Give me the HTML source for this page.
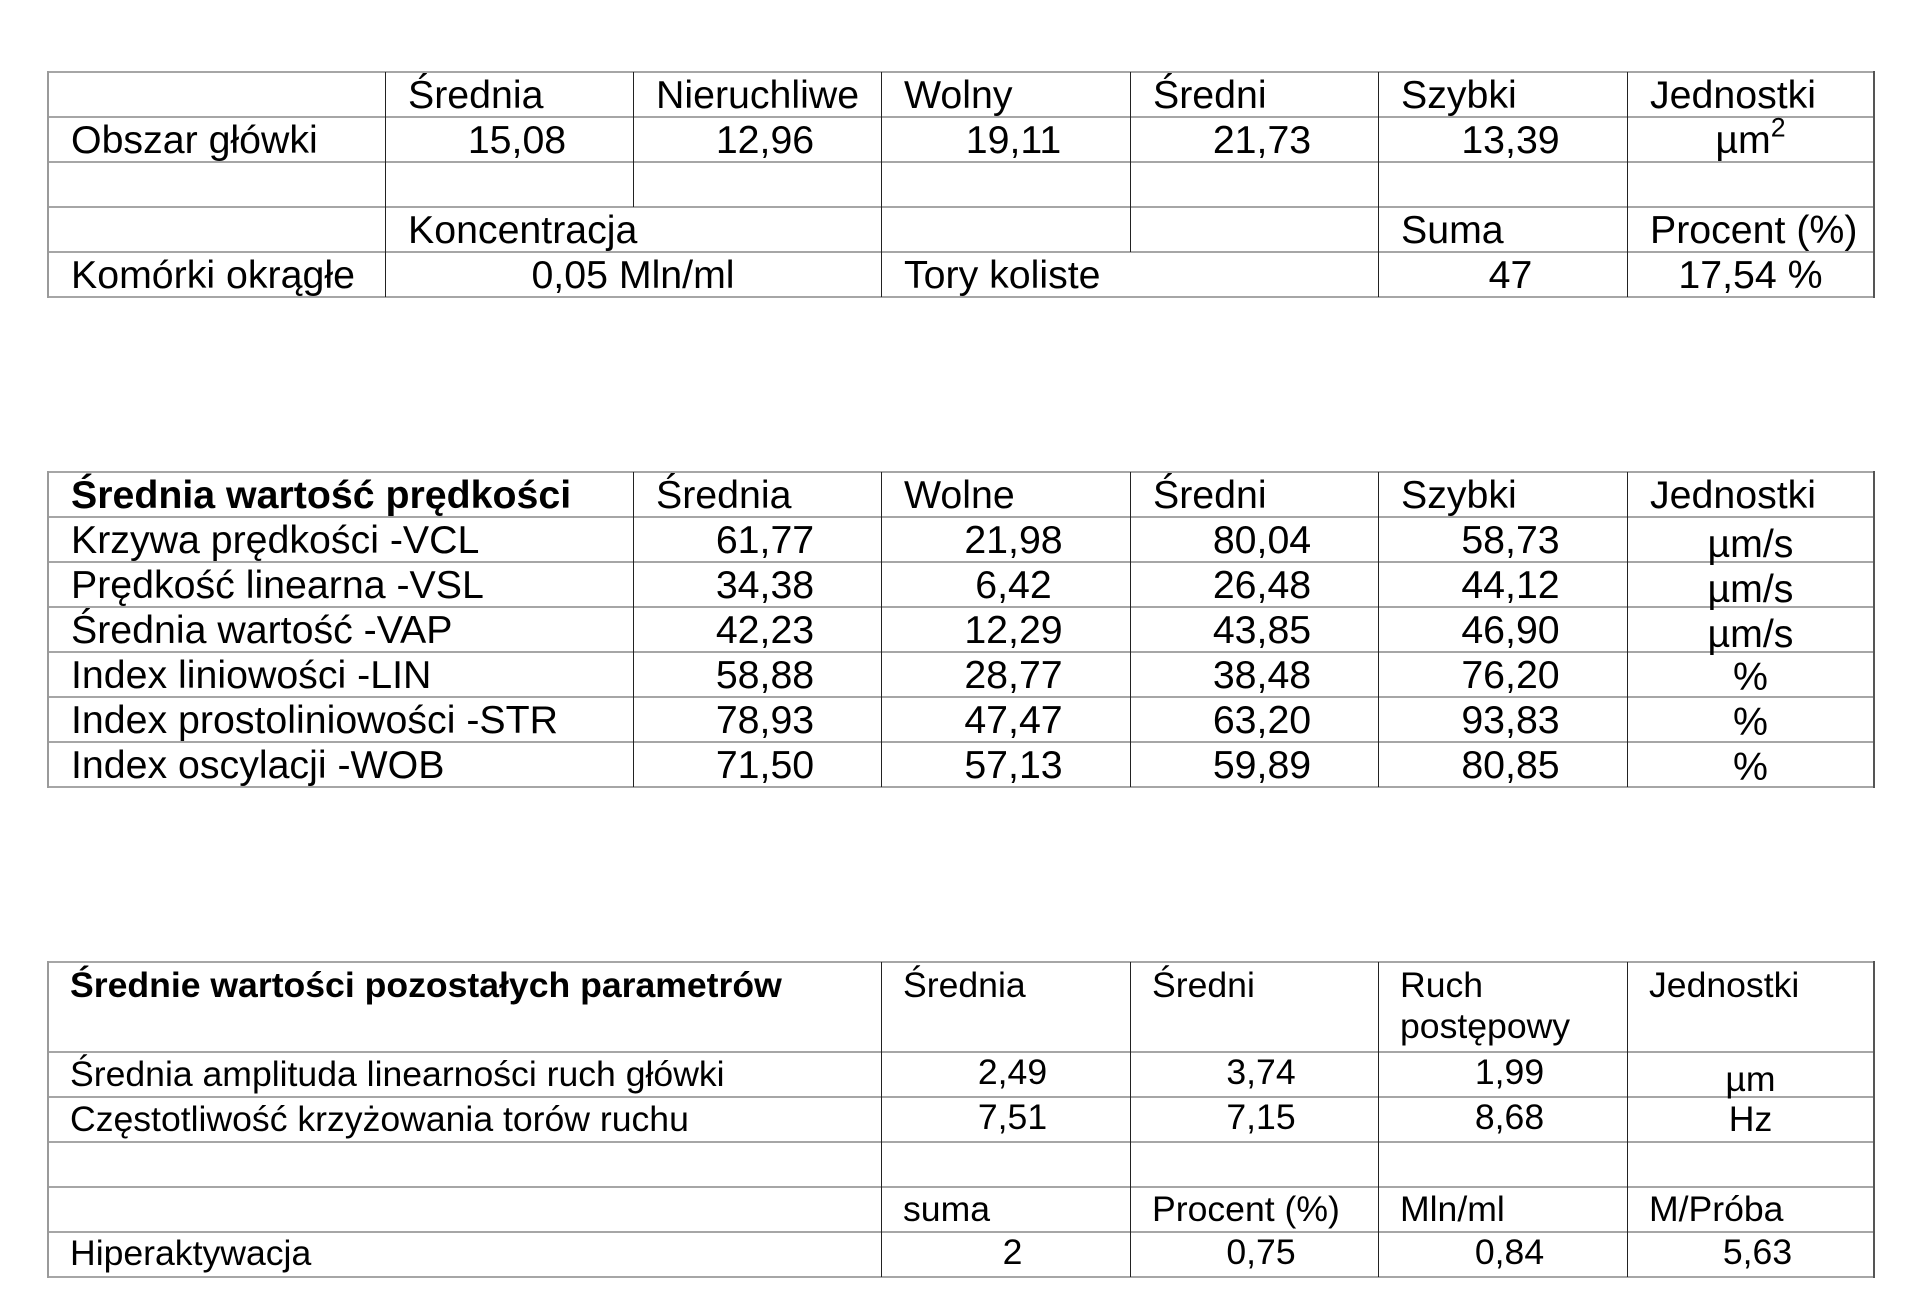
<!DOCTYPE html>
<html>
<head>
<meta charset="utf-8">
<style>
html,body{margin:0;padding:0;background:#fff;}
body{width:1929px;height:1315px;position:relative;overflow:hidden;font-family:"Liberation Sans",Arial,sans-serif;color:#000;}
.h{position:absolute;height:2px;background:#a6a6a6;}
.v{position:absolute;width:1px;background:#222;}
.vo{position:absolute;width:2px;background:#9a9a9a;}
.vr{position:absolute;width:2px;background:#555;}
.t{position:absolute;white-space:nowrap;box-sizing:border-box;}
.a{font-size:39.3px;line-height:45px;height:45px;margin-top:1px;}
.b{font-size:35.6px;line-height:41px;margin-top:1px;}
.l{text-align:left;padding-left:23px;}
.lb{text-align:left;padding-left:22px;}
.c{text-align:center;}
.n{text-align:center;padding-left:16px;}
.nb{text-align:center;padding-left:14px;}
.bold{font-weight:bold;}
sup{font-size:68%;line-height:0;vertical-align:0.62em;}
</style>
</head>
<body>

<!-- ================= TABLE 1 ================= -->
<div class="h" style="left:48px;top:71px;width:1827px;"></div>
<div class="h" style="left:48px;top:116px;width:1827px;"></div>
<div class="h" style="left:48px;top:161px;width:1827px;"></div>
<div class="h" style="left:48px;top:206px;width:1827px;"></div>
<div class="h" style="left:48px;top:251px;width:1827px;"></div>
<div class="h" style="left:48px;top:296px;width:1827px;"></div>

<div class="vo" style="left:47px;top:71px;height:227px;"></div>
<div class="v" style="left:385px;top:72px;height:225px;"></div>
<div class="v" style="left:633px;top:72px;height:135px;"></div>
<div class="v" style="left:881px;top:72px;height:225px;"></div>
<div class="v" style="left:1130px;top:72px;height:180px;"></div>
<div class="v" style="left:1378px;top:72px;height:225px;"></div>
<div class="v" style="left:1627px;top:72px;height:225px;"></div>
<div class="vr" style="left:1873px;top:71px;height:227px;"></div>

<!-- row 1 -->
<div class="t a l" style="left:385px;top:72px;width:248px;">Średnia</div>
<div class="t a l" style="left:633px;top:72px;width:248px;">Nieruchliwe</div>
<div class="t a l" style="left:881px;top:72px;width:249px;">Wolny</div>
<div class="t a l" style="left:1130px;top:72px;width:248px;">Średni</div>
<div class="t a l" style="left:1378px;top:72px;width:249px;">Szybki</div>
<div class="t a l" style="left:1627px;top:72px;width:247px;">Jednostki</div>
<!-- row 2 -->
<div class="t a l" style="left:48px;top:117px;width:337px;">Obszar główki</div>
<div class="t a n" style="left:385px;top:117px;width:248px;">15,08</div>
<div class="t a n" style="left:633px;top:117px;width:248px;">12,96</div>
<div class="t a n" style="left:881px;top:117px;width:249px;">19,11</div>
<div class="t a n" style="left:1130px;top:117px;width:248px;">21,73</div>
<div class="t a n" style="left:1378px;top:117px;width:249px;">13,39</div>
<div class="t a c" style="left:1627px;top:117px;width:247px;">µm<sup>2</sup></div>
<!-- row 4 -->
<div class="t a l" style="left:385px;top:207px;width:496px;">Koncentracja</div>
<div class="t a l" style="left:1378px;top:207px;width:249px;">Suma</div>
<div class="t a l" style="left:1627px;top:207px;width:247px;">Procent (%)</div>
<!-- row 5 -->
<div class="t a l" style="left:48px;top:252px;width:337px;">Komórki okrągłe</div>
<div class="t a c" style="left:385px;top:252px;width:496px;">0,05 Mln/ml</div>
<div class="t a l" style="left:881px;top:252px;width:497px;">Tory koliste</div>
<div class="t a n" style="left:1378px;top:252px;width:249px;">47</div>
<div class="t a c" style="left:1627px;top:252px;width:247px;">17,54 %</div>

<!-- ================= TABLE 2 ================= -->
<div class="h" style="left:48px;top:471px;width:1827px;"></div>
<div class="h" style="left:48px;top:516px;width:1827px;"></div>
<div class="h" style="left:48px;top:561px;width:1827px;"></div>
<div class="h" style="left:48px;top:606px;width:1827px;"></div>
<div class="h" style="left:48px;top:651px;width:1827px;"></div>
<div class="h" style="left:48px;top:696px;width:1827px;"></div>
<div class="h" style="left:48px;top:741px;width:1827px;"></div>
<div class="h" style="left:48px;top:786px;width:1827px;"></div>

<div class="vo" style="left:47px;top:471px;height:317px;"></div>
<div class="v" style="left:633px;top:472px;height:315px;"></div>
<div class="v" style="left:881px;top:472px;height:315px;"></div>
<div class="v" style="left:1130px;top:472px;height:315px;"></div>
<div class="v" style="left:1378px;top:472px;height:315px;"></div>
<div class="v" style="left:1627px;top:472px;height:315px;"></div>
<div class="vr" style="left:1873px;top:471px;height:317px;"></div>

<div class="t a l bold" style="left:48px;top:472px;width:585px;">Średnia wartość prędkości</div>
<div class="t a l" style="left:633px;top:472px;width:248px;">Średnia</div>
<div class="t a l" style="left:881px;top:472px;width:249px;">Wolne</div>
<div class="t a l" style="left:1130px;top:472px;width:248px;">Średni</div>
<div class="t a l" style="left:1378px;top:472px;width:249px;">Szybki</div>
<div class="t a l" style="left:1627px;top:472px;width:247px;">Jednostki</div>

<div class="t a l" style="left:48px;top:517px;width:585px;">Krzywa prędkości -VCL</div>
<div class="t a n" style="left:633px;top:517px;width:248px;">61,77</div>
<div class="t a n" style="left:881px;top:517px;width:249px;">21,98</div>
<div class="t a n" style="left:1130px;top:517px;width:248px;">80,04</div>
<div class="t a n" style="left:1378px;top:517px;width:249px;">58,73</div>
<div class="t a c" style="left:1627px;top:521px;width:247px;">µm/s</div>

<div class="t a l" style="left:48px;top:562px;width:585px;">Prędkość linearna -VSL</div>
<div class="t a n" style="left:633px;top:562px;width:248px;">34,38</div>
<div class="t a n" style="left:881px;top:562px;width:249px;">6,42</div>
<div class="t a n" style="left:1130px;top:562px;width:248px;">26,48</div>
<div class="t a n" style="left:1378px;top:562px;width:249px;">44,12</div>
<div class="t a c" style="left:1627px;top:566px;width:247px;">µm/s</div>

<div class="t a l" style="left:48px;top:607px;width:585px;">Średnia wartość -VAP</div>
<div class="t a n" style="left:633px;top:607px;width:248px;">42,23</div>
<div class="t a n" style="left:881px;top:607px;width:249px;">12,29</div>
<div class="t a n" style="left:1130px;top:607px;width:248px;">43,85</div>
<div class="t a n" style="left:1378px;top:607px;width:249px;">46,90</div>
<div class="t a c" style="left:1627px;top:611px;width:247px;">µm/s</div>

<div class="t a l" style="left:48px;top:652px;width:585px;">Index liniowości -LIN</div>
<div class="t a n" style="left:633px;top:652px;width:248px;">58,88</div>
<div class="t a n" style="left:881px;top:652px;width:249px;">28,77</div>
<div class="t a n" style="left:1130px;top:652px;width:248px;">38,48</div>
<div class="t a n" style="left:1378px;top:652px;width:249px;">76,20</div>
<div class="t a c" style="left:1627px;top:654px;width:247px;">%</div>

<div class="t a l" style="left:48px;top:697px;width:585px;">Index prostoliniowości -STR</div>
<div class="t a n" style="left:633px;top:697px;width:248px;">78,93</div>
<div class="t a n" style="left:881px;top:697px;width:249px;">47,47</div>
<div class="t a n" style="left:1130px;top:697px;width:248px;">63,20</div>
<div class="t a n" style="left:1378px;top:697px;width:249px;">93,83</div>
<div class="t a c" style="left:1627px;top:699px;width:247px;">%</div>

<div class="t a l" style="left:48px;top:742px;width:585px;">Index oscylacji -WOB</div>
<div class="t a n" style="left:633px;top:742px;width:248px;">71,50</div>
<div class="t a n" style="left:881px;top:742px;width:249px;">57,13</div>
<div class="t a n" style="left:1130px;top:742px;width:248px;">59,89</div>
<div class="t a n" style="left:1378px;top:742px;width:249px;">80,85</div>
<div class="t a c" style="left:1627px;top:744px;width:247px;">%</div>

<!-- ================= TABLE 3 ================= -->
<div class="h" style="left:48px;top:961px;width:1827px;"></div>
<div class="h" style="left:48px;top:1051px;width:1827px;"></div>
<div class="h" style="left:48px;top:1096px;width:1827px;"></div>
<div class="h" style="left:48px;top:1141px;width:1827px;"></div>
<div class="h" style="left:48px;top:1186px;width:1827px;"></div>
<div class="h" style="left:48px;top:1231px;width:1827px;"></div>
<div class="h" style="left:48px;top:1276px;width:1827px;"></div>

<div class="vo" style="left:47px;top:961px;height:317px;"></div>
<div class="v" style="left:881px;top:962px;height:315px;"></div>
<div class="v" style="left:1130px;top:962px;height:315px;"></div>
<div class="v" style="left:1378px;top:962px;height:315px;"></div>
<div class="v" style="left:1627px;top:962px;height:315px;"></div>
<div class="vr" style="left:1873px;top:961px;height:317px;"></div>

<div class="t b lb bold" style="left:48px;top:964px;width:833px;">Średnie wartości pozostałych parametrów</div>
<div class="t b lb" style="left:881px;top:964px;width:249px;">Średnia</div>
<div class="t b lb" style="left:1130px;top:964px;width:248px;">Średni</div>
<div class="t b lb" style="left:1378px;top:964px;width:249px;">Ruch<br>postępowy</div>
<div class="t b lb" style="left:1627px;top:964px;width:247px;">Jednostki</div>

<div class="t b lb" style="left:48px;top:1053px;width:833px;">Średnia amplituda linearności ruch główki</div>
<div class="t b nb" style="left:881px;top:1051px;width:249px;">2,49</div>
<div class="t b nb" style="left:1130px;top:1051px;width:248px;">3,74</div>
<div class="t b nb" style="left:1378px;top:1051px;width:249px;">1,99</div>
<div class="t b c" style="left:1627px;top:1058px;width:247px;">µm</div>

<div class="t b lb" style="left:48px;top:1098px;width:833px;">Częstotliwość krzyżowania torów ruchu</div>
<div class="t b nb" style="left:881px;top:1096px;width:249px;">7,51</div>
<div class="t b nb" style="left:1130px;top:1096px;width:248px;">7,15</div>
<div class="t b nb" style="left:1378px;top:1096px;width:249px;">8,68</div>
<div class="t b c" style="left:1627px;top:1098px;width:247px;">Hz</div>

<div class="t b lb" style="left:881px;top:1188px;width:249px;">suma</div>
<div class="t b lb" style="left:1130px;top:1188px;width:248px;">Procent (%)</div>
<div class="t b lb" style="left:1378px;top:1188px;width:249px;">Mln/ml</div>
<div class="t b lb" style="left:1627px;top:1188px;width:247px;">M/Próba</div>

<div class="t b lb" style="left:48px;top:1232px;width:833px;">Hiperaktywacja</div>
<div class="t b nb" style="left:881px;top:1231px;width:249px;">2</div>
<div class="t b nb" style="left:1130px;top:1231px;width:248px;">0,75</div>
<div class="t b nb" style="left:1378px;top:1231px;width:249px;">0,84</div>
<div class="t b nb" style="left:1627px;top:1231px;width:247px;">5,63</div>

</body>
</html>
